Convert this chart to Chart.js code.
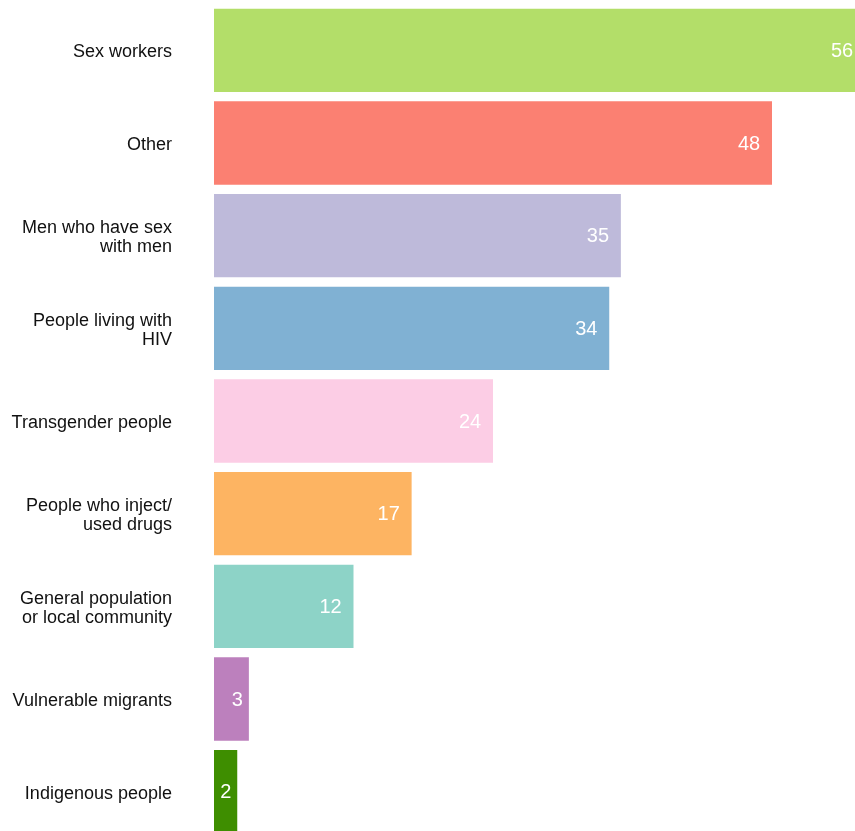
<!DOCTYPE html>
<html>
<head>
<meta charset="utf-8">
<title>Key populations</title>
<script src="https://cdn.jsdelivr.net/npm/chart.js@4/dist/chart.umd.min.js"></script>
<style>
    html, body { margin: 0; padding: 0; background: #fff; overflow: hidden; }
    #population-chart { position: relative; width: 855px; height: 838px; }
</style>
</head>
<body>
<div id="population-chart"></div>
<script>
// 类别（多行标签用数组）
const categories = [
    'Sex workers',
    'Other',
    ['Men who have sex', 'with men'],
    ['People living with', 'HIV'],
    'Transgender people',
    ['People who inject/', 'used drugs'],
    ['General population', 'or local community'],
    'Vulnerable migrants',
    'Indigenous people'
];

// 数值
const counts = [56, 48, 35, 34, 24, 17, 12, 3, 2];

// 每根柱子的颜色
const barColors = [
    '#B3DE69',
    '#FB8072',
    '#BEBADA',
    '#80B1D3',
    '#FCCDE5',
    '#FDB462',
    '#8DD3C7',
    '#BC80BD',
    '#3E8E00'
];

document.addEventListener('DOMContentLoaded', function() {
    createPopulationChart();
});

/**
 * 柱内数值标签插件（白色，靠右，按文字宽度留边）
 */
const valueLabelPlugin = {
    id: 'valueLabels',
    afterDatasetsDraw: function(chart) {
        const ctx = chart.ctx;
        const meta = chart.getDatasetMeta(0);
        ctx.save();
        ctx.font = '20px "Liberation Sans", Arial, sans-serif';
        ctx.fillStyle = '#ffffff';
        ctx.textAlign = 'right';
        ctx.textBaseline = 'middle';
        meta.data.forEach(function(bar, i) {
            const text = String(counts[i]);
            const w = ctx.measureText(text).width;
            ctx.fillText(text, bar.x - w * 0.53, bar.y + 1);
        });
        ctx.restore();
    }
};

/**
 * 创建横向柱状图
 */
function createPopulationChart() {
    const container = document.getElementById('population-chart');
    if (!container) return;
    container.innerHTML = '';

    const canvas = document.createElement('canvas');
    container.appendChild(canvas);

    new Chart(canvas, {
        type: 'bar',
        data: {
            labels: categories,
            datasets: [{
                data: counts,
                backgroundColor: barColors,
                borderWidth: 0,
                barPercentage: 0.9,
                categoryPercentage: 1.0
            }]
        },
        options: {
            responsive: true,
            maintainAspectRatio: false,
            animation: false,
            indexAxis: 'y',
            layout: {
                padding: { top: 4, left: 0, right: 0, bottom: 0 }
            },
            plugins: {
                legend: { display: false },
                tooltip: { enabled: false }
            },
            scales: {
                x: {
                    display: false,
                    min: 0,
                    max: 55.14
                },
                y: {
                    // 用刻度长度代替 padding，避免上下留白
                    grid: { display: false, drawTicks: true, tickLength: 42 },
                    border: { display: false },
                    ticks: {
                        color: '#111111',
                        padding: 0,
                        labelOffset: 2,
                        font: {
                            family: '"Liberation Sans", Arial, sans-serif',
                            size: 18,
                            lineHeight: 19 / 18
                        }
                    },
                    afterFit: function(scale) {
                        scale.width = 214;
                        scale.paddingTop = 0;
                        scale.paddingBottom = 0;
                    }
                }
            }
        },
        plugins: [valueLabelPlugin]
    });
}
</script>
</body>
</html>
